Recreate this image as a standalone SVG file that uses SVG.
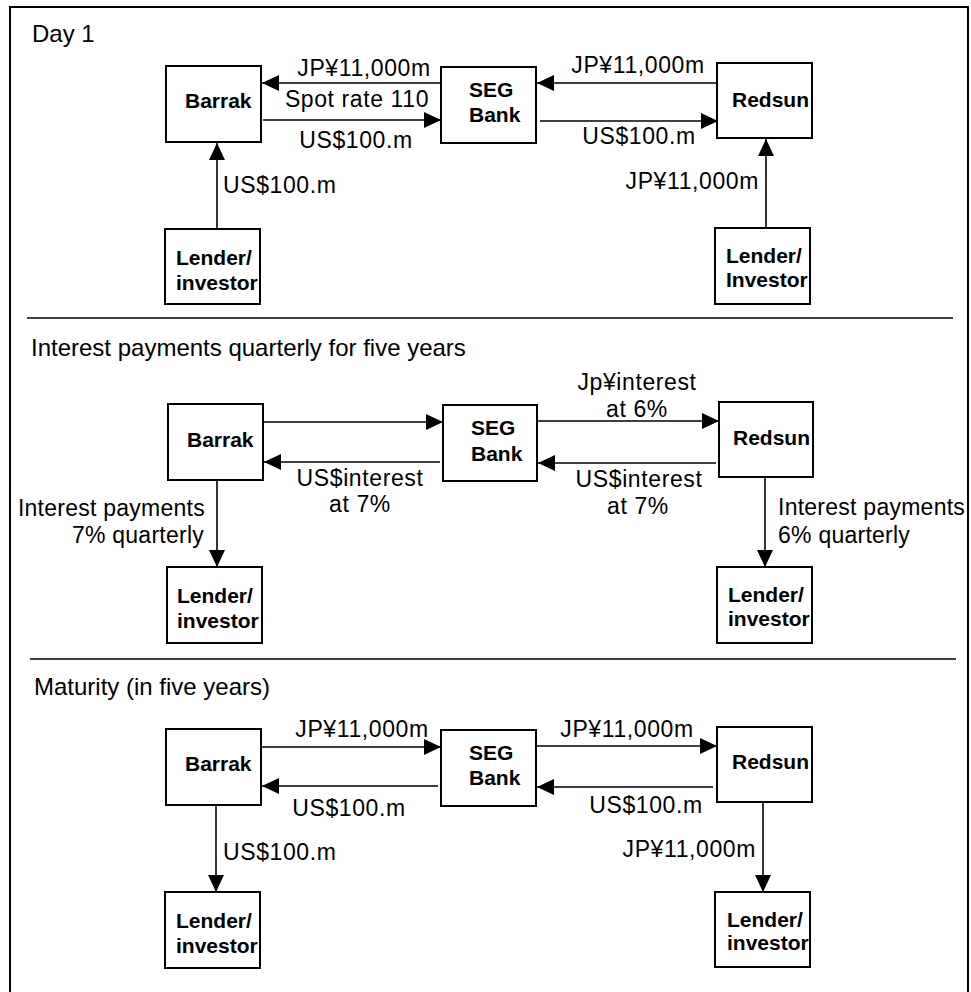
<svg xmlns="http://www.w3.org/2000/svg" width="971" height="992" viewBox="0 0 971 992">
<style>
.box{fill:#fff;stroke:#000;stroke-width:2}
.node{font-family:"Liberation Sans",Arial,Helvetica,sans-serif;font-size:21px;font-weight:bold;fill:#000}
.lbl{font-family:"Liberation Sans",Arial,Helvetica,sans-serif;font-size:23px;letter-spacing:0.6px;fill:#000}
.tight{letter-spacing:0.25px}
.head{font-family:"Liberation Sans",Arial,Helvetica,sans-serif;font-size:24px;fill:#000}
.mid{text-anchor:middle}
.end{text-anchor:end}
.conn{fill:none;stroke:#000;stroke-width:1.6;marker-end:url(#ah)}
.rule{stroke:#000;stroke-width:1.5}
</style>
<defs>
<marker id="ah" viewBox="0 0 17 16" refX="17" refY="8" markerWidth="17" markerHeight="16" markerUnits="userSpaceOnUse" orient="auto">
<path d="M0,0 L17,8 L0,16 Z" fill="#000"/>
</marker>
</defs>
<rect x="0" y="0" width="971" height="992" fill="#fff"/>
<rect x="10" y="7" width="958" height="1000" fill="none" stroke="#000" stroke-width="2"/>
<line class="rule" x1="27" y1="318" x2="953" y2="318"/>
<line class="rule" x1="30" y1="659" x2="956" y2="659"/>

<g id="headings">
<text class="head" x="32" y="42">Day 1</text>
<text class="head" x="31" y="356">Interest payments quarterly for five years</text>
<text class="head" x="34" y="695">Maturity (in five years)</text>
</g>

<!-- Day 1 -->
<g id="d1-barrak"><rect class="box" x="166" y="66" width="95" height="76"/><text class="node" x="185" y="108">Barrak</text></g>
<g id="d1-seg"><rect class="box" x="441" y="67" width="95" height="76"/><text class="node" x="469" y="97">SEG</text><text class="node" x="469" y="122">Bank</text></g>
<g id="d1-redsun"><rect class="box" x="717" y="63" width="95" height="75"/><text class="node" x="732" y="107">Redsun</text></g>
<g id="d1-lender-l"><rect class="box" x="165" y="229" width="95" height="75"/><text class="node" x="176" y="265">Lender/</text><text class="node" x="176" y="290">investor</text></g>
<g id="d1-lender-r"><rect class="box" x="715" y="228" width="95" height="76"/><text class="node" x="726" y="263">Lender/</text><text class="node" x="726" y="287">Investor</text></g>

<!-- Interest -->
<g id="d2-barrak"><rect class="box" x="168" y="404" width="95" height="76"/><text class="node" x="187" y="447">Barrak</text></g>
<g id="d2-seg"><rect class="box" x="443" y="405" width="94" height="76"/><text class="node" x="471" y="435">SEG</text><text class="node" x="471" y="461">Bank</text></g>
<g id="d2-redsun"><rect class="box" x="719" y="402" width="94" height="75"/><text class="node" x="733" y="445">Redsun</text></g>
<g id="d2-lender-l"><rect class="box" x="167" y="567" width="95" height="76"/><text class="node" x="177" y="603">Lender/</text><text class="node" x="177" y="628">investor</text></g>
<g id="d2-lender-r"><rect class="box" x="717" y="567" width="95" height="76"/><text class="node" x="728" y="602">Lender/</text><text class="node" x="728" y="626">investor</text></g>

<!-- Maturity -->
<g id="d3-barrak"><rect class="box" x="166" y="729" width="95" height="76"/><text class="node" x="185" y="771">Barrak</text></g>
<g id="d3-seg"><rect class="box" x="441" y="730" width="95" height="76"/><text class="node" x="469" y="760">SEG</text><text class="node" x="469" y="785">Bank</text></g>
<g id="d3-redsun"><rect class="box" x="717" y="727" width="95" height="75"/><text class="node" x="732" y="769">Redsun</text></g>
<g id="d3-lender-l"><rect class="box" x="165" y="892" width="95" height="76"/><text class="node" x="176" y="928">Lender/</text><text class="node" x="176" y="953">investor</text></g>
<g id="d3-lender-r"><rect class="box" x="715" y="892" width="95" height="75"/><text class="node" x="727" y="927">Lender/</text><text class="node" x="727" y="950">investor</text></g>

<g id="connectors">
<path class="conn" d="M441,83 L262,83"/>
<path class="conn" d="M263,120 L441,120"/>
<path class="conn" d="M717,83 L537,83"/>
<path class="conn" d="M540,121 L718,121"/>
<path class="conn" d="M217,229 L217,143"/>
<path class="conn" d="M766,228 L766,139"/>

<path class="conn" d="M263,422 L443,422"/>
<path class="conn" d="M440,462 L264,462"/>
<path class="conn" d="M537,421 L719,421"/>
<path class="conn" d="M716,463 L538,463"/>
<path class="conn" d="M217,480 L217,567"/>
<path class="conn" d="M765,477 L765,567"/>

<path class="conn" d="M261,747 L441,747"/>
<path class="conn" d="M438,786 L262,786"/>
<path class="conn" d="M536,746 L717,746"/>
<path class="conn" d="M713,787 L537,787"/>
<path class="conn" d="M216,805 L216,892"/>
<path class="conn" d="M763,802 L763,892"/>
</g>

<g id="labels">
<text class="lbl mid" x="364" y="76">JP¥11,000m</text>
<text class="lbl mid" x="357" y="107">Spot rate 110</text>
<text class="lbl mid" x="356" y="148">US$100.m</text>
<text class="lbl mid" x="638" y="73">JP¥11,000m</text>
<text class="lbl mid" x="639" y="144">US$100.m</text>
<text class="lbl" x="223" y="193">US$100.m</text>
<text class="lbl end" x="759" y="189">JP¥11,000m</text>

<text class="lbl mid" x="360" y="486">US$interest</text>
<text class="lbl mid" x="360" y="512">at 7%</text>
<text class="lbl mid" x="637" y="390">Jp¥interest</text>
<text class="lbl mid" x="637" y="417">at 6%</text>
<text class="lbl mid" x="639" y="487">US$interest</text>
<text class="lbl mid" x="638" y="514">at 7%</text>
<text class="lbl tight end" x="205" y="516">Interest payments</text>
<text class="lbl tight end" x="204" y="543">7% quarterly</text>
<text class="lbl tight" x="778" y="515">Interest payments</text>
<text class="lbl tight" x="778" y="543">6% quarterly</text>

<text class="lbl mid" x="362" y="737">JP¥11,000m</text>
<text class="lbl mid" x="349" y="816">US$100.m</text>
<text class="lbl mid" x="627" y="737">JP¥11,000m</text>
<text class="lbl mid" x="646" y="813">US$100.m</text>
<text class="lbl" x="223" y="860">US$100.m</text>
<text class="lbl end" x="756" y="857">JP¥11,000m</text>
</g>
</svg>
